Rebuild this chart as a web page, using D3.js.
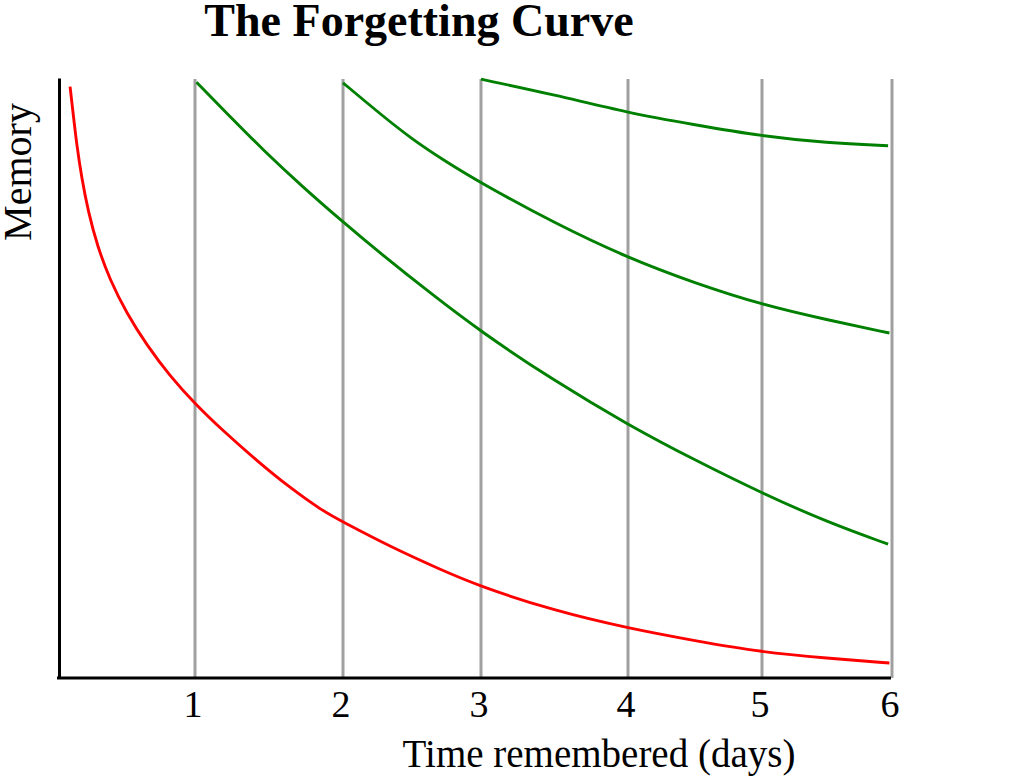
<!DOCTYPE html>
<html>
<head>
<meta charset="utf-8">
<script src="https://cdn.jsdelivr.net/npm/d3@7"></script>
<style>
  html, body { margin: 0; padding: 0; background: #fff; }
  svg { display: block; }
  text { font-family: "Liberation Serif", "Times New Roman", serif; fill: #000; }
</style>
</head>
<body>
<svg id="chart" width="1024" height="783"></svg>
<script>
// ---------- data ----------
const title = "The Forgetting Curve";
const xLabel = "Time remembered (days)";
const yLabel = "Memory";
const dayTicks = [1, 2, 3, 4, 5, 6];

// memory (0-100) over days; first-time learning, no review (red)
const noReviewDays   = [0.088, 0.112, 0.136, 0.173, 0.221, 0.287, 0.38, 0.501, 0.647, 0.818, 1.0, 1.189, 1.419, 1.642, 1.865, 2.0, 2.341, 2.703, 3.0, 3.5, 4.0, 4.5, 5.0, 5.5, 5.98];
const noReviewMemory = [98.55, 93.8, 89.0, 83.3, 77.7, 72.0, 66.3, 60.8, 55.5, 50.3, 45.7, 41.2, 36.2, 31.7, 27.8, 26.0, 21.9, 18.1, 15.2, 11.2, 8.3, 6.2, 4.3, 3.3, 2.5];

// after review on day 1
const review1Days   = [1.01, 1.24, 1.46, 1.73, 2.0, 2.27, 2.63, 3.0, 3.5, 4.0, 4.5, 5.0, 5.5, 5.97];
const review1Memory = [99.3, 93.5, 88.0, 81.8, 76.0, 70.8, 64.2, 57.7, 49.5, 42.2, 36.3, 30.8, 26.0, 22.3];

// after review on day 2
const review2Days   = [2.0, 2.27, 2.5, 2.75, 3.0, 3.5, 4.0, 4.5, 5.0, 5.5, 5.98];
const review2Memory = [99.2, 94.0, 89.8, 86.0, 82.5, 75.8, 70.0, 65.8, 62.2, 59.7, 57.5];

// after review on day 3
const review3Days   = [3.0, 3.5, 4.0, 4.5, 5.0, 5.5, 5.97];
const review3Memory = [99.8, 97.2, 94.2, 92.2, 90.3, 89.2, 88.7];

// ---------- layout ----------
const svg = d3.select("#chart");
// the hand-drawn day grid is slightly uneven; a piecewise scale reproduces it
const x = d3.scaleLinear()
  .domain([0, 1, 2, 3, 4, 5, 6])
  .range([58, 195, 343, 481, 628, 762, 892]);
const y = d3.scaleLinear().domain([0, 100]).range([678, 78]);

const zip = (xs, ys) => xs.map((d, i) => [d, ys[i]]);
const line = d3.line()
  .x(d => x(d[0]))
  .y(d => y(d[1]))
  .curve(d3.curveBasis);

// gray day lines
svg.append("g")
  .selectAll("line")
  .data(dayTicks)
  .join("line")
  .attr("x1", d => x(d)).attr("x2", d => x(d))
  .attr("y1", y(100) + 1).attr("y2", y(0))
  .attr("stroke", "#a0a0a0")
  .attr("stroke-width", 3);

// curves
const series = [
  { pts: zip(noReviewDays, noReviewMemory), color: "#ff0000" },
  { pts: zip(review1Days, review1Memory), color: "#008000" },
  { pts: zip(review2Days, review2Memory), color: "#008000" },
  { pts: zip(review3Days, review3Memory), color: "#008000" }
];
svg.append("g")
  .selectAll("path")
  .data(series)
  .join("path")
  .attr("d", d => line(d.pts))
  .attr("fill", "none")
  .attr("stroke", d => d.color)
  .attr("stroke-width", 2.9);

// axes (plain lines, no ticks)
const xAxis = d3.axisBottom(x).tickValues([]).tickSize(0).tickSizeOuter(0);
const xg = svg.append("g").attr("transform", `translate(0,${y(0)})`).call(xAxis);
xg.select(".domain").attr("stroke", "#000").attr("stroke-width", 3)
  .attr("d", `M${x(0) - 1},0H${x(6) - 1}`);

const yAxis = d3.axisLeft(y).tickValues([]).tickSize(0).tickSizeOuter(0);
const yg = svg.append("g").attr("transform", `translate(${x(0) + 1},0)`).call(yAxis);
yg.select(".domain").attr("stroke", "#000").attr("stroke-width", 3);

// tick labels
svg.append("g")
  .selectAll("text")
  .data(dayTicks)
  .join("text")
  .attr("x", d => x(d) - 2)
  .attr("y", 717)
  .attr("text-anchor", "middle")
  .style("font-size", "38px")
  .text(d => d);

// axis titles
svg.append("text")
  .attr("x", 599).attr("y", 767)
  .attr("text-anchor", "middle")
  .style("font-size", "39px")
  .text(xLabel);

svg.append("text")
  .attr("transform", "translate(31,172) rotate(-90)")
  .attr("text-anchor", "middle")
  .style("font-size", "40px")
  .text(yLabel);

// title
svg.append("text")
  .attr("x", 419).attr("y", 36)
  .attr("text-anchor", "middle")
  .style("font-size", "46px")
  .style("font-weight", "bold")
  .text(title);
</script>
</body>
</html>
